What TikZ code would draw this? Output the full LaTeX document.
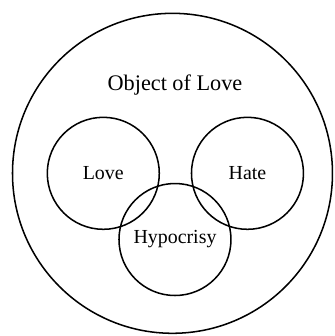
\documentclass[tikz,border=0pt]{standalone}
\usepackage{fontspec}
\setmainfont{Liberation Serif}
\usetikzlibrary{positioning}

\begin{document}
\begin{tikzpicture}[
  ring/.style={circle,draw,line width=1.3pt,inner sep=0pt,minimum size=3.36cm,
    font=\fontsize{17}{20}\selectfont},
  title/.style={font=\fontsize{19}{23}\selectfont}]
\useasboundingbox (-5.175,-4.881) rectangle (4.875,5.2);
\node[circle,draw,line width=1.3pt,minimum size=9.6cm] (object) at (0,0) {};
\node[title] (objtext) at (0.075,2.65) {Object of Love};
\node[ring] (love) at (-2.076,0) {Love};
\node[ring] (hate) at (2.25,0) {Hate};
\node[ring] (hypo) at (0.075,-1.986) {Hypocrisy};
\end{tikzpicture}
\end{document}
